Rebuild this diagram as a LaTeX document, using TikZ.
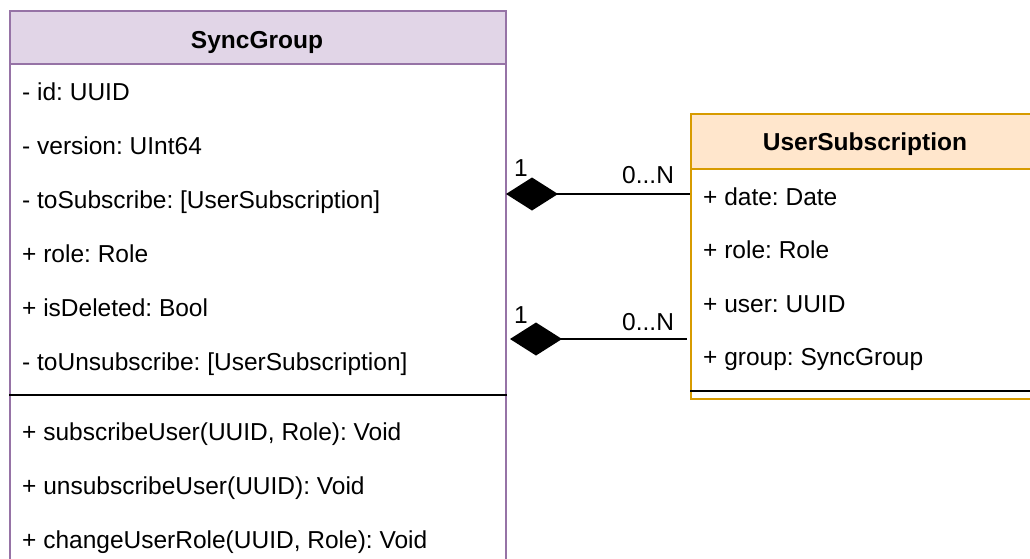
\documentclass[tikz,border=0pt]{standalone}
\usepackage{fontspec}
\setmainfont{Liberation Sans}
\usetikzlibrary{arrows.meta}
\definecolor{sgfill}{HTML}{E1D5E7}
\definecolor{sgline}{HTML}{9673A6}
\definecolor{usfill}{HTML}{FFE6CC}
\definecolor{usline}{HTML}{D79B00}
\frenchspacing
\begin{document}
\begin{tikzpicture}[x=1pt,y=-1pt,
  txt/.style={inner sep=0pt, font=\fontsize{24.5}{28}\selectfont},
  member/.style={txt, anchor=base west},
  title/.style={txt, anchor=base, font=\fontsize{24.5}{28}\selectfont\bfseries},
  mult/.style={txt, anchor=base west},
  classbox/.style={draw, line width=2pt, anchor=north west, inner sep=0pt},
  divider/.style={line width=2pt, black},
  assoc/.style={line width=2pt, {Diamond[length=52pt,width=33pt]}-}]
\useasboundingbox (0,0) rectangle (1030,558);
\clip (0,0) rectangle (1030,558);

% SyncGroup class
\node[classbox, draw=sgline, fill=white, minimum width=496pt, minimum height=600pt] (sg) at (9,10) {};
\node[classbox, draw=sgline, fill=sgfill, minimum width=496pt, minimum height=53pt] (sghead) at (9,10) {};
\node[title] (sgtitle) at (257,48) {SyncGroup};
\node[member] (sga1) at (22,100.5) {- id: UUID};
\node[member] (sga2) at (22,154) {- version: UInt64};
\node[member] (sga3) at (22,208) {- toSubscribe: [UserSubscription]};
\node[member] (sga4) at (22,262) {+ role: Role};
\node[member] (sga5) at (22,316) {+ isDeleted: Bool};
\node[member] (sga6) at (22,370) {- toUnsubscribe: [UserSubscription]};
\draw[divider] (sg.west |- 0,395) -- (sg.east |- 0,395);
\node[member] (sgm1) at (22,440) {+ subscribeUser(UUID, Role): Void};
\node[member] (sgm2) at (22,494) {+ unsubscribeUser(UUID): Void};
\node[member] (sgm3) at (22,548) {+ changeUserRole(UUID, Role): Void};

% UserSubscription class
\node[classbox, draw=usline, fill=white, minimum width=360pt, minimum height=285pt] (us) at (690,113) {};
\node[classbox, draw=usline, fill=usfill, minimum width=360pt, minimum height=55pt] (ushead) at (690,113) {};
\node[title] (ustitle) at (865,150) {UserSubscription};
\node[member] (usa1) at (703,205) {+ date: Date};
\node[member] (usa2) at (703,258) {+ role: Role};
\node[member] (usa3) at (703,312) {+ user: UUID};
\node[member] (usa4) at (703,365) {+ group: SyncGroup};
\draw[divider] (us.west |- 0,391) -- (1030,391);

% compositions
\coordinate (c1s) at (506,194);
\coordinate (c1u) at (690,194);
\coordinate (c2s) at (510,339);
\coordinate (c2u) at (687,339);
\draw[assoc] (c1s) -- (c1u);
\draw[assoc] (c2s) -- (c2u);
\node[mult] (m1s) at (514,176) {1};
\node[mult] (m1u) at (622,183) {0...N};
\node[mult] (m2s) at (514,323) {1};
\node[mult] (m2u) at (622,330) {0...N};
\end{tikzpicture}
\end{document}
